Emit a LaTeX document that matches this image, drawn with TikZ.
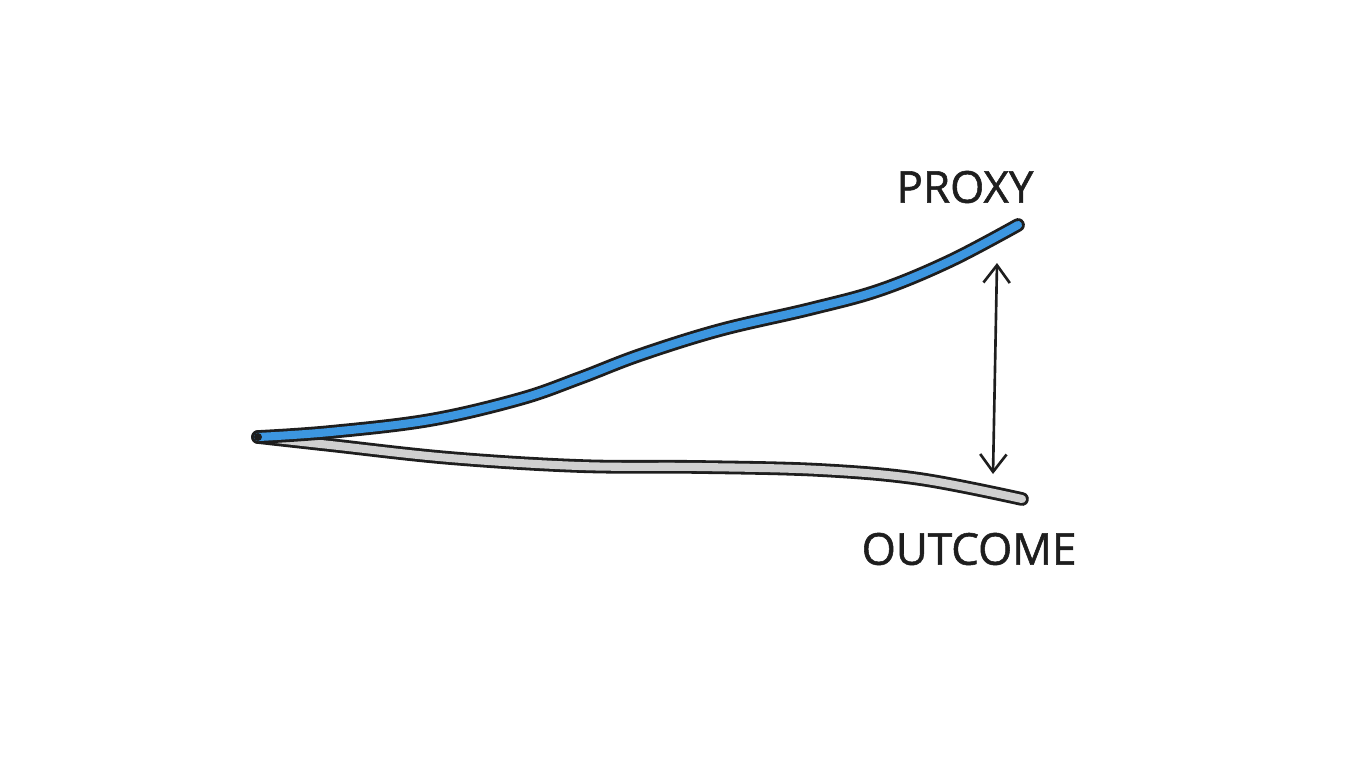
\documentclass[tikz,border=0pt]{standalone}
\usepackage{fontspec}
\setmainfont{Open Sans}[AutoFakeBold=1.2]
\usetikzlibrary{arrows.meta}
\definecolor{proxyblue}{HTML}{3C96E0}
\definecolor{outcomegray}{HTML}{D0D0D0}
\definecolor{ink}{HTML}{1E1E1E}

\begin{document}
\begin{tikzpicture}[
      x=0.02cm, y=-0.02cm,
      rim/.style={draw=ink, line width=7.8pt, line cap=round, line join=round},
      core/.style={line width=4.6pt, line cap=round, line join=round},
      gap/.style={draw=ink, line width=1.5pt,
          {Straight Barb[length=10pt,width=15pt]}-{Straight Barb[length=10pt,width=15pt]}},
      tag/.style={text=ink, font=\fontsize{25}{30}\selectfont\bfseries, inner sep=0pt}
    ]
    \useasboundingbox (0,0) rectangle (1365,768);

    \coordinate (origin) at (258,437);
    \coordinate (proxyend) at (1018,225);
    \coordinate (outcomeend) at (1022,499);
    \coordinate (gaptop) at (997,263);
    \coordinate (gapbot) at (993,474);

    % outcome (gray) below, proxy (blue) on top
    \draw[rim] plot[smooth, tension=0.6] coordinates {(origin) (330,445) (450,458) (580,466)
        (700,467) (820,470) (920,479) (outcomeend)};
    \draw[core, outcomegray] plot[smooth, tension=0.6] coordinates {(origin) (330,445) (450,458)
        (580,466) (700,467) (820,470) (920,479) (outcomeend)};
    \draw[rim] plot[smooth, tension=0.6] coordinates {(origin) (330,432) (430,420) (520,399)
        (580,378) (640,355) (720,330) (810,309) (880,290) (950,261) (proxyend)};
    \draw[core, proxyblue] plot[smooth, tension=0.6] coordinates {(origin) (330,432) (430,420)
        (520,399) (580,378) (640,355) (720,330) (810,309) (880,290) (950,261) (proxyend)};
    \fill[ink] (origin) circle (4);

    \draw[gap] (gaptop) -- (gapbot);

    \node[tag] (proxy) at (965,187) {PROXY};
    \node[tag] (outcome) at (969,549) {OUTCOME};
  \end{tikzpicture}
\end{document}
